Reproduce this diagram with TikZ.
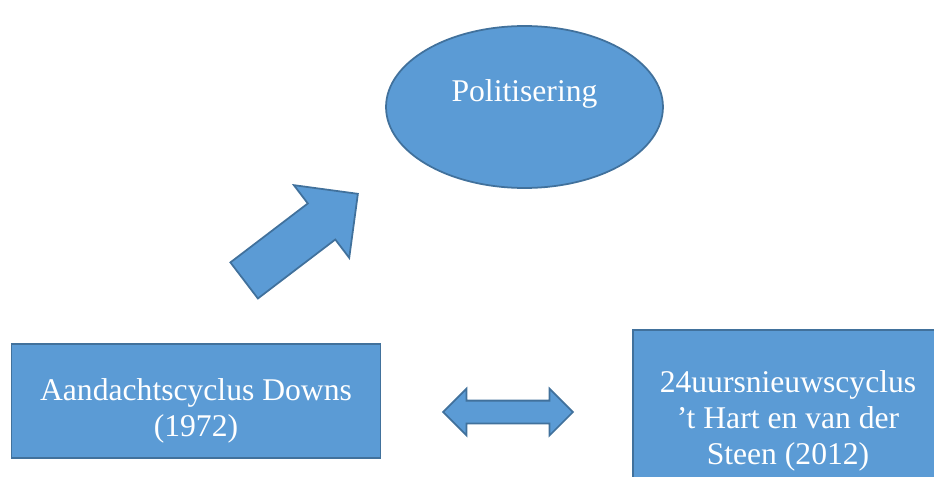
\documentclass[tikz,border=0pt]{standalone}
\usepackage{fontspec}
\setmainfont{Liberation Serif}
\usepackage{xcolor}
\usetikzlibrary{arrows.meta, positioning, shapes.geometric, shapes.arrows}
\definecolor{fillblue}{HTML}{5B9BD5}
\definecolor{lineblue}{HTML}{41719C}

\begin{document}
\begin{tikzpicture}[
    x=0.02cm, y=-0.02cm,
    shp/.style={draw=lineblue, fill=fillblue, line width=1pt, text=white,
                font=\fontsize{18}{20.5}\selectfont, align=center, inner sep=0pt},
    box/.style={shp, rectangle, minimum width=7.38cm, minimum height=2.28cm},
    blk/.style={draw=lineblue, fill=fillblue, line width=1pt, inner xsep=0pt},
]
\useasboundingbox (0,0) rectangle (934,477);
\clip (0,0) rectangle (934,477);
\node[shp, ellipse, minimum width=5.54cm, minimum height=3.24cm,
      text height=0.5cm, text depth=0.74cm] (pol) at (524.5,107) {Politisering};
\node[box] (downs) at (196,401) {\rule{0pt}{0.85cm}Aandachtscyclus Downs\\(1972)};
\node[box, minimum width=6.2cm, minimum height=3.48cm] (hart) at (788,417)
     {\rule{0pt}{0.58cm}24uursnieuwscyclus\\'t Hart en van der\\Steen (2012)};
\node[blk, single arrow, rotate=37.3, minimum height=2.86cm, minimum width=1.8cm,
      inner ysep=0.436cm, single arrow head extend=0.46cm,
      single arrow tip angle=90] (up) at (292,244) {};
\node[blk, double arrow, minimum height=2.6cm, minimum width=0.9cm,
      inner ysep=0.21cm, double arrow head extend=0.24cm,
      double arrow tip angle=90] (both) at (508,412) {};
\end{tikzpicture}
\end{document}
